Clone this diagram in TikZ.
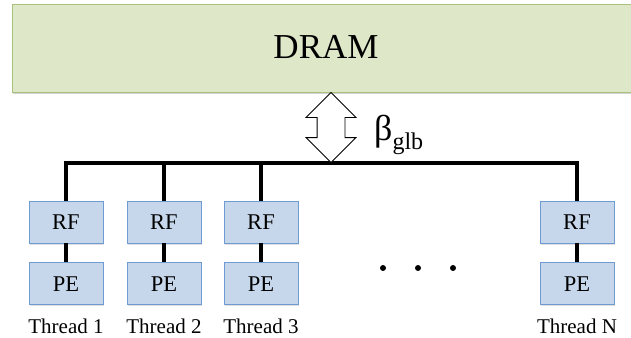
\documentclass[tikz,border=0pt]{standalone}
\usepackage{fontspec}
\setmainfont{Liberation Serif}
\usetikzlibrary{positioning, shapes.arrows, shadows}
\definecolor{dramfill}{HTML}{DFE7C9}
\definecolor{dramborder}{HTML}{A7C27B}
\definecolor{unitfill}{HTML}{C6D7EC}
\definecolor{unitborder}{HTML}{6E9CD2}

\begin{document}
\begin{tikzpicture}[x=1pt, y=-1pt,
    unit/.style={draw=unitborder, fill=unitfill, line width=0.8pt, minimum width=74pt, minimum height=42pt, inner sep=0pt,
      drop shadow={shadow xshift=0.5pt, shadow yshift=-1.5pt, opacity=0.25}, font=\fontsize{22.5}{24}\selectfont},
    thread/.style={anchor=base, inner sep=0pt, font=\fontsize{21}{22}\selectfont},
    wire/.style={line width=3.5pt}]
  \useasboundingbox (0, 0) rectangle (631, 337);
  \node[draw=dramborder, fill=dramfill, line width=1pt, minimum width=628pt, minimum height=87pt, inner sep=0pt,
    drop shadow={shadow xshift=1pt, shadow yshift=-2pt, opacity=0.35}, font=\fontsize{35}{40}\selectfont,
    text height=20pt] (dram) at (326, 48.5) {DRAM};
  % threads
  \foreach \i/\x in {1/66, 2/164, 3/261, N/577} {
    \node[unit] (rf\i) at (\x, 222) {RF};
    \node[unit, below=19pt of rf\i] (pe\i) {PE};
    \node[thread] (th\i) at ([yshift=-28pt]pe\i.south) {Thread \i};
    \draw[wire] (rf\i) -- (pe\i);
  }
  % bus
  \coordinate (bus) at (331, 163);
  \draw[wire] (rf1.north) |- (bus) -| (rfN.north);
  \draw[wire] (rf2.north) -- (rf2.north |- bus);
  \draw[wire] (rf3.north) -- (rf3.north |- bus);
  \node[double arrow, draw, fill=white, line width=0.8pt, rotate=90, inner xsep=0pt, inner ysep=13.5pt,
    minimum height=70pt, minimum width=49pt, double arrow head extend=11pt] (bw) at (331, 127.5) {};
  \node[anchor=base west, inner sep=0pt, font=\fontsize{36}{40}\selectfont] (bwlbl) at ([xshift=43pt, yshift=-13pt]bw.center)
    {β\raisebox{-9pt}{\fontsize{24}{26}\selectfont glb}};
  \foreach \x in {383, 418, 453} \fill (\x, 268) circle (3pt);
\end{tikzpicture}
\end{document}
